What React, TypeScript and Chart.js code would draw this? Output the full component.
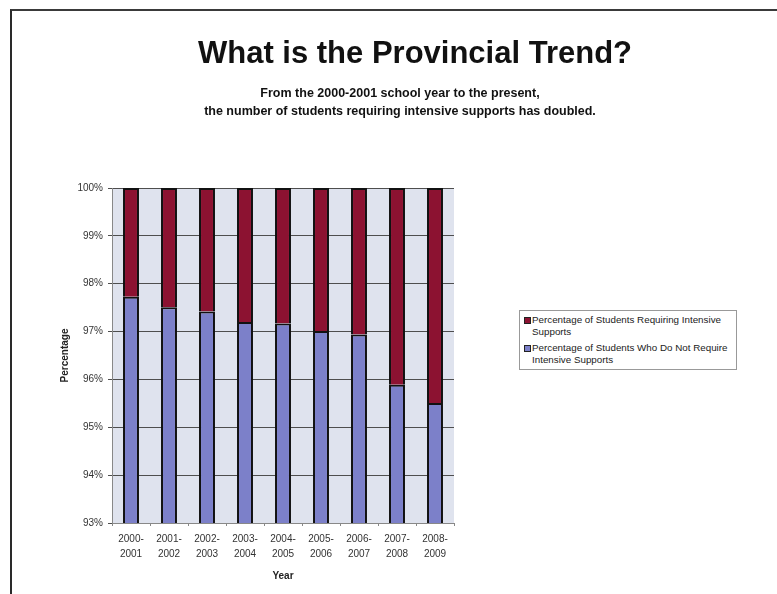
import React, { useEffect, useRef } from "react";
import { Chart, registerables } from "chart.js";

Chart.register(...registerables);

const categories: string[][] = [
  ["2000-", "2001"],
  ["2001-", "2002"],
  ["2002-", "2003"],
  ["2003-", "2004"],
  ["2004-", "2005"],
  ["2005-", "2006"],
  ["2006-", "2007"],
  ["2007-", "2008"],
  ["2008-", "2009"],
];

const notRequiring: number[] = [97.73, 97.51, 97.42, 97.2, 97.17, 97.01, 96.94, 95.89, 95.51];
const requiring: number[] = [2.27, 2.49, 2.58, 2.8, 2.83, 2.99, 3.06, 4.11, 4.49];

const seriesNames = {
  requiring: "Percentage of Students Requiring Intensive Supports",
  notRequiring: "Percentage of Students Who Do Not Require Intensive Supports",
};

const legendLines: string[][] = [
  ["Percentage of Students Requiring Intensive", "Supports"],
  ["Percentage of Students Who Do Not Require", "Intensive Supports"],
];

const yMin = 93;
const yMax = 100;

const RED = "#8c1231";
const BLUE = "#7c80c9";

const plotBg = {
  id: "plotBg",
  beforeDraw(chart: any) {
    const { ctx, chartArea } = chart;
    ctx.save();
    ctx.fillStyle = "#dfe3ee";
    ctx.fillRect(chartArea.left, chartArea.top, chartArea.right - chartArea.left, chartArea.bottom - chartArea.top);
    ctx.restore();
  },
};

export default function App() {
  const ref = useRef<HTMLCanvasElement | null>(null);

  useEffect(() => {
    if (!ref.current) return;
    const chart = new Chart(ref.current, {
      type: "bar",
      data: {
        labels: categories,
        datasets: [
          {
            label: seriesNames.notRequiring,
            data: notRequiring,
            backgroundColor: BLUE,
            borderColor: "#111",
            borderWidth: 2,
            categoryPercentage: 1,
            barPercentage: 0.42,
          },
          {
            label: seriesNames.requiring,
            data: requiring,
            backgroundColor: RED,
            borderColor: "#111",
            borderWidth: 2,
            categoryPercentage: 1,
            barPercentage: 0.42,
          },
        ],
      },
      options: {
        animation: false,
        responsive: false,
        maintainAspectRatio: false,
        layout: { padding: { left: 55, top: 188, right: 323, bottom: 9 } },
        plugins: {
          legend: { display: false },
          title: { display: false },
          tooltip: { enabled: false },
        },
        scales: {
          x: {
            stacked: true,
            grid: {
              display: true,
              drawOnChartArea: false,
              offset: true,
              tickLength: 3,
              color: "#888",
            },
            border: { color: "#888", width: 1 },
            ticks: {
              color: "#333",
              padding: 6,
              font: { family: "Liberation Sans, Arial", size: 10, lineHeight: 1.5 },
              maxRotation: 0,
              autoSkip: false,
            },
            title: {
              display: true,
              text: "Year",
              color: "#222",
              font: { family: "Liberation Sans, Arial", size: 10, weight: "bold" },
              padding: { top: 4, bottom: 3 },
            },
            afterFit(scale: any) {
              scale.height = 62;
            },
          },
          y: {
            stacked: true,
            min: yMin,
            max: yMax,
            grid: {
              color: "#4e4e4e",
              lineWidth: 1,
              tickLength: 4,
            },
            border: { color: "#888", width: 1 },
            ticks: {
              stepSize: 1,
              color: "#333",
              padding: 5,
              font: { family: "Liberation Sans, Arial", size: 10 },
              callback: (v: any) => `${v}%`,
            },
            title: {
              display: true,
              text: "Percentage",
              color: "#222",
              font: { family: "Liberation Sans, Arial", size: 10, weight: "bold" },
              padding: { top: 4, bottom: 4 },
            },
            afterFit(scale: any) {
              scale.width = 57;
            },
          },
        },
      },
      plugins: [plotBg],
    } as any);
    return () => chart.destroy();
  }, []);

  const legendColors = [RED, BLUE];

  return (
    <div
      style={{
        position: "absolute",
        left: 0,
        top: 0,
        width: 777,
        height: 594,
        background: "#fff",
        overflow: "hidden",
        fontFamily: "Liberation Sans, Arial, sans-serif",
      }}
    >
      <div
        style={{
          position: "absolute",
          left: 10,
          top: 9,
          width: 780,
          height: 600,
          borderTop: "2px solid #3a3a3a",
          borderLeft: "2px solid #2a2a2a",
        }}
      />
      <canvas ref={ref} width={777} height={594} style={{ position: "absolute", left: 0, top: 0 }} />
      <div
        style={{
          position: "absolute",
          left: 0,
          width: 830,
          top: 37,
          textAlign: "center",
          fontSize: 31,
          lineHeight: "31px",
          fontWeight: "bold",
          color: "#111",
          whiteSpace: "nowrap",
        }}
      >
        What is the Provincial Trend?
      </div>
      <div
        style={{
          position: "absolute",
          left: 0,
          width: 800,
          top: 84,
          textAlign: "center",
          fontSize: 12.5,
          lineHeight: "18px",
          fontWeight: "bold",
          color: "#111",
          whiteSpace: "nowrap",
        }}
      >
        From the 2000-2001 school year to the present,
        <br />
        the number of students requiring intensive supports has doubled.
      </div>
      <div
        style={{
          position: "absolute",
          left: 519,
          top: 310,
          width: 218,
          height: 60,
          boxSizing: "border-box",
          border: "1px solid #999",
          background: "#fff",
          fontSize: 9.8,
          lineHeight: "12px",
          color: "#222",
          padding: "3px 0 0 3px",
        }}
      >
        {legendLines.map((lines, i) => (
          <div key={i} style={{ position: "relative", paddingLeft: 9, marginBottom: 4 }}>
            <span
              style={{
                position: "absolute",
                left: 1,
                top: 3,
                width: 5,
                height: 5,
                background: legendColors[i],
                border: "1px solid #222",
              }}
            />
            {lines.map((t, j) => (
              <div key={j} style={{ whiteSpace: "nowrap" }}>
                {t}
              </div>
            ))}
          </div>
        ))}
      </div>
    </div>
  );
}
